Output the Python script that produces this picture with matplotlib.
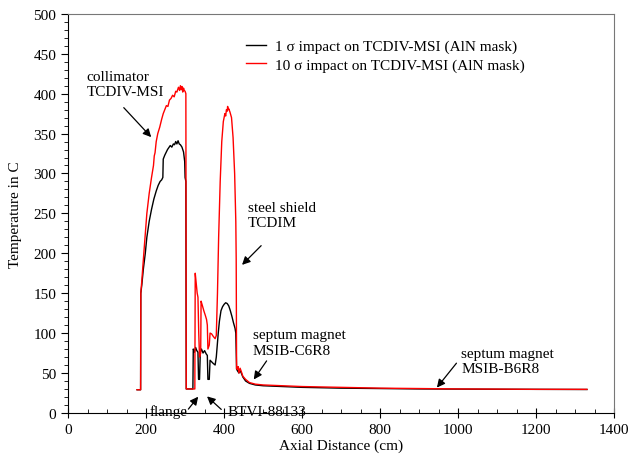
import matplotlib
matplotlib.use("Agg")
import matplotlib.pyplot as plt
from matplotlib.ticker import MultipleLocator

plt.rcParams['font.family'] = ['Liberation Serif', 'DejaVu Serif']

# 10 sigma impact (red)
x_red = [177, 186, 186.5, 189, 195, 202, 208, 214, 219, 221, 223, 226, 230, 235, 240, 244, 248,
         252, 256, 260, 264, 268, 272, 276, 279, 283, 286, 288, 290, 292, 294, 296, 298, 300, 302,
         303, 325, 326, 328, 331, 333, 335, 337, 340, 341, 344, 348,
         352, 355, 357, 358.5, 362, 364, 368, 372, 377, 380, 383, 386, 390, 394, 398, 402, 404, 406,
         408, 409, 411, 412, 415, 419, 423, 427, 430, 431, 432, 434, 436, 438, 441, 444, 448, 455,
         465, 480, 500, 550, 600, 700, 800, 900, 1000, 1100, 1200, 1330]
y_red = [29, 29, 150, 165, 205, 250, 275, 295, 310, 322, 326, 340, 350, 358, 368, 375, 380,
         385, 384, 392, 394, 398, 396, 403, 402, 408, 404, 410, 405, 409, 402, 407, 404, 403, 400,
         30, 30, 175, 165, 150, 145, 100, 70, 75, 140, 135, 128,
         122, 117, 110, 80, 85, 100, 99, 96, 93, 97, 150, 220, 290, 340, 365, 375, 372, 380,
         378, 384, 380, 381, 377, 370, 345, 300, 240, 193, 55, 55, 58, 50, 56, 52, 46, 42,
         38, 36, 35, 34, 33, 32, 31, 30.5, 30, 29.8, 29.5, 29.5]

# 1 sigma impact (black)
x_blk = [177, 186, 186.5, 189, 193, 198, 202, 208, 214, 220, 226, 231, 236, 240, 243, 244, 248,
         255, 262, 266, 270, 273, 276, 279, 282, 285, 288, 292, 296, 299, 300, 302, 303, 320, 321,
         324, 327, 330, 333, 334.5, 337, 339, 342, 346, 350, 354, 357, 358.5, 362, 364, 368, 372,
         377, 380, 385, 388, 392, 396, 400, 404, 408, 412, 416, 420, 424, 428, 430, 432, 434, 438,
         441, 444, 448, 455, 465, 480, 500, 550, 600, 700, 800, 900, 1000, 1100, 1200, 1330]
y_blk = [29, 29, 150, 160, 180, 200, 220, 240, 255, 268, 278, 285, 290, 292, 295, 318, 323,
         330, 335, 333, 337, 336, 340, 337, 341, 337, 336, 333, 327, 315, 295, 290, 30, 30, 80,
         76, 82, 78, 76, 42, 42, 76, 80, 75, 78, 74, 72, 42, 42, 66, 64, 62,
         60, 70, 100, 115, 128, 133, 136, 138, 137, 134, 128, 121, 113, 106, 100, 55, 53, 50,
         53, 50, 45, 40, 37, 35, 34, 33, 32, 31, 30.5, 30, 29.8, 29.6, 29.5, 29.3]

fig = plt.figure(figsize=(6.3, 4.64), dpi=100)
ax = fig.add_axes([0.108, 0.108, 0.867, 0.86])

ax.plot(x_blk, y_blk, color='black', lw=1.0, label='1 σ impact on TCDIV-MSI (AlN mask)')
ax.plot(x_red, y_red, color='#ff0000', lw=1.0, label='10 σ impact on TCDIV-MSI (AlN mask)')

ax.set_xlim(0, 1400)
ax.set_ylim(0, 500)
ax.xaxis.set_major_locator(MultipleLocator(200))
ax.xaxis.set_minor_locator(MultipleLocator(50))
ax.yaxis.set_major_locator(MultipleLocator(50))
ax.yaxis.set_minor_locator(MultipleLocator(10))
ax.tick_params(axis='x', which='major', direction='inout', length=7, labelsize=11)
ax.tick_params(axis='x', which='minor', direction='in', length=3)
ax.tick_params(axis='y', which='major', direction='out', length=5, labelsize=11)
ax.tick_params(axis='y', which='minor', direction='out', length=3)
for s in ['top', 'right']:
    ax.spines[s].set_color('#777777')
for s in ['left', 'bottom']:
    ax.spines[s].set_color('black')

ax.set_xlabel('Axial Distance (cm)', fontsize=11, labelpad=2)
ax.set_ylabel('Temperature in C', fontsize=11, labelpad=8)

leg = ax.legend(loc='upper left', bbox_to_anchor=(0.30, 0.97), frameon=False, fontsize=11,
                handlelength=1.3, handletextpad=0.6, labelspacing=0.3)

ap = dict(arrowstyle='-|>', color='black', lw=0.9, mutation_scale=12)
fs = 11
ls = 1.25
ax.annotate('', xy=(218, 343), xytext=(138, 385), arrowprops=ap)
ax.text(48, 412, 'collimator\nTCDIV-MSI', fontsize=fs, va='center', ha='left', linespacing=ls)

ax.annotate('', xy=(441, 183), xytext=(500, 212), arrowprops=ap)
ax.text(461, 248, 'steel shield\nTCDIM', fontsize=fs, va='center', ha='left', linespacing=ls)

ax.annotate('', xy=(472, 39), xytext=(513, 68), arrowprops=ap)
ax.text(474, 88, 'septum magnet\nMSIB-C6R8', fontsize=fs, va='center', ha='left', linespacing=ls)

ax.annotate('', xy=(941, 29), xytext=(1000, 65), arrowprops=ap)
ax.text(1008, 65, 'septum magnet\nMSIB-B6R8', fontsize=fs, va='center', ha='left', linespacing=ls)

ax.annotate('', xy=(338, 23), xytext=(304, 2), arrowprops=ap, annotation_clip=False)
ax.text(210, 2, 'flange', fontsize=fs, va='center', ha='left')
ax.annotate('', xy=(351, 23), xytext=(398, 2), arrowprops=ap, annotation_clip=False)
ax.text(410, 2, 'BTVI-88133', fontsize=fs, va='center', ha='left')

fig.savefig('out.png', dpi=100)
